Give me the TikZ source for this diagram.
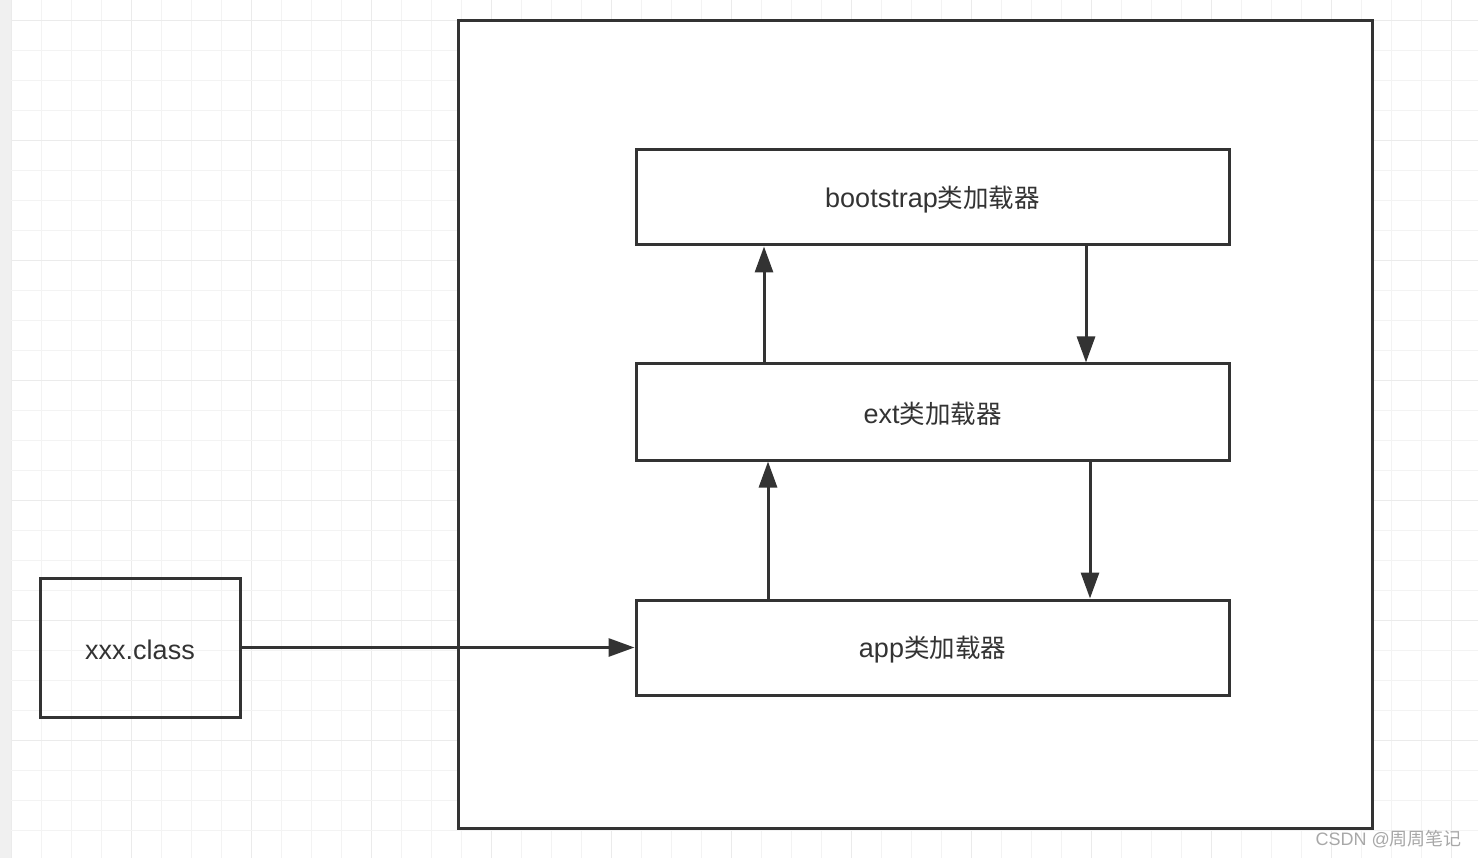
\documentclass[tikz,border=0pt]{standalone}
\usepackage{fontspec}
\setmainfont{Liberation Sans}
\newfontfamily\cjk{Noto Sans CJK SC}
\usetikzlibrary{arrows.meta}
\definecolor{ink}{HTML}{333333}
\definecolor{gridminor}{HTML}{F3F3F3}
\definecolor{gridmajor}{HTML}{EBEBEB}
\definecolor{strip}{HTML}{F0F0F0}
\definecolor{wm}{HTML}{A8A8A8}
\tikzset{
  box/.style={draw=ink, line width=3pt, fill=white, inner sep=0pt, font=\fontsize{27}{30}\selectfont, text=ink},
  lbl/.style={text=ink, font=\fontsize{27}{30}\selectfont, inner sep=0pt},
  arr/.style={draw=ink, line width=3pt, -{Triangle[length=26pt,width=18pt]}},
  minorline/.style={draw=gridminor, line width=1.2pt},
  majorline/.style={draw=gridmajor, line width=1.4pt},
}
\begin{document}
\begin{tikzpicture}[x=1pt,y=-1pt]
\useasboundingbox (0,0) rectangle (1478,858);
\fill[white] (0,0) rectangle (1478,858);
% grid
\foreach \k in {0,...,48}{
  \pgfmathsetmacro{\xx}{11.7+30*\k}
  \pgfmathtruncatemacro{\m}{mod(\k,4)}
  \ifnum\m=0 \draw[majorline] (\xx,0) -- (\xx,858); \else \draw[minorline] (\xx,0) -- (\xx,858); \fi
}
\foreach \k in {0,...,28}{
  \pgfmathsetmacro{\yy}{20.7+30*\k}
  \pgfmathtruncatemacro{\m}{mod(\k,4)}
  \ifnum\m=0 \draw[majorline] (0,\yy) -- (1478,\yy); \else \draw[minorline] (0,\yy) -- (1478,\yy); \fi
}
\fill[strip] (0,0) rectangle (10.5,858);
% outer frame
\node[box, minimum width=914pt, minimum height=807pt] (frame) at (915,424.5) {};
% loaders
\node[box, minimum width=593pt, minimum height=95pt] (boot) at (932.5,197.5) {};
\node[box, minimum width=593pt, minimum height=96pt] (ext) at (932.5,412) {};
\node[box, minimum width=593pt, minimum height=95pt] (app) at (932.5,647.5) {};
\node[box, fill=none, minimum width=200pt, minimum height=139pt] (cls) at (140,647.5) {};
\node[lbl] (bootlbl) at ([yshift=-2pt]boot.center) {bootstrap{\cjk\fontsize{25.5}{30}\selectfont 类加载器}};
\node[lbl] (extlbl) at ([yshift=-2pt]ext.center) {ext{\cjk\fontsize{25.5}{30}\selectfont 类加载器}};
\node[lbl] (applbl) at ([yshift=-2pt]app.center) {app{\cjk\fontsize{25.5}{30}\selectfont 类加载器}};
\node[lbl] (clslbl) at ([yshift=-2pt]cls.center) {xxx.class};
% arrows
\draw[arr] ([xshift=-168.5pt]ext.north) -- ([xshift=-168.5pt]boot.south);
\draw[arr] ([xshift=153.5pt]boot.south) -- ([xshift=153.5pt]ext.north);
\draw[arr] ([xshift=-164.5pt]app.north) -- ([xshift=-164.5pt]ext.south);
\draw[arr] ([xshift=157.5pt]ext.south) -- ([xshift=157.5pt]app.north);
\draw[arr] (cls.east) -- (app.west);
% watermark
\node[text=wm, font=\fontsize{18}{20}\selectfont, anchor=east, inner sep=0pt] (wmark) at (1462,839) {CSDN @{\cjk 周周笔记}};
\end{tikzpicture}
\end{document}
